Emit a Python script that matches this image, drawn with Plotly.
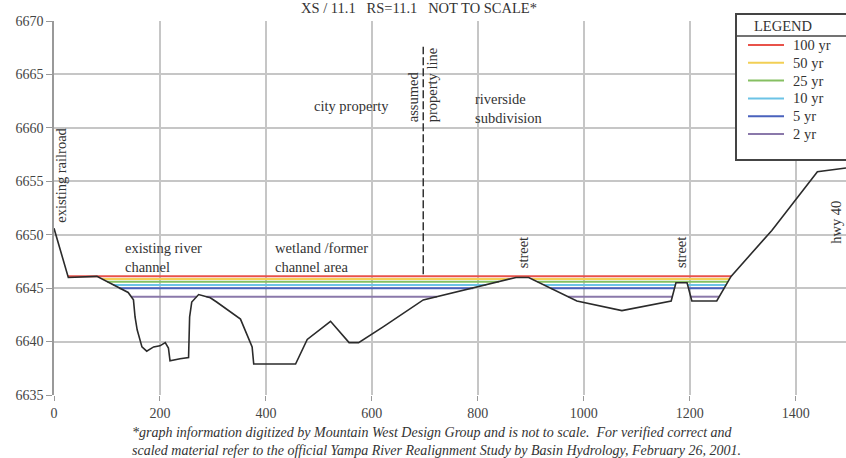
import plotly.graph_objects as go

# ---------------- data ----------------
station = [0, 27, 81, 119, 140, 150, 153, 157, 166, 175, 188, 200, 210, 216, 219,
           238, 254, 256, 260, 273, 295, 307, 352, 374, 377, 456, 478, 522, 557,
           575, 622, 697, 800, 872, 896, 987, 1072, 1165, 1174, 1195, 1204, 1251,
           1278, 1355, 1441, 1495]
ground = [6650.6, 6646.0, 6646.1, 6645.1, 6644.6, 6643.9, 6642.3, 6641.1, 6639.5,
          6639.1, 6639.5, 6639.6, 6639.9, 6639.4, 6638.2, 6638.4, 6638.5, 6642.3,
          6643.7, 6644.4, 6644.1, 6643.7, 6642.1, 6639.5, 6637.9, 6637.9, 6640.2,
          6641.9, 6639.9, 6639.9, 6641.4, 6643.9, 6645.1, 6646.0, 6646.0, 6643.8,
          6642.9, 6643.8, 6645.5, 6645.5, 6643.8, 6643.8, 6646.1, 6650.4, 6655.9,
          6656.25]

events = ["100 yr", "50 yr", "25 yr", "10 yr", "5 yr", "2 yr"]
wse = [6646.12, 6645.85, 6645.6, 6645.3, 6645.0, 6644.2]
colors = ["#e8524a", "#f2cf55", "#86bf62", "#6cc3e6", "#4a62bd", "#8a78aa"]

x_ticks = [0, 200, 400, 600, 800, 1000, 1200, 1400]
y_ticks = [6635, 6640, 6645, 6650, 6655, 6660, 6665, 6670]

property_line_station = 697
property_line_elev = [6646.3, 6667.6]

labels = [
    # text, station, elevation, angle, anchor
    ("existing railroad", 13, 6655.6, -90, "center"),
    ("existing river<br>channel", 130, 6647.9, 0, "left"),
    ("wetland /former<br>channel area", 414, 6647.9, 0, "left"),
    ("city property", 561, 6662.0, 0, "center"),
    ("assumed<br>property line", 695, 6664.0, -90, "left"),
    ("riverside<br>subdivision", 791, 6661.8, 0, "left"),
    ("street", 886, 6648.3, -90, "center"),
    ("street", 1184, 6648.3, -90, "center"),
    ("hwy 40", 1476, 6651.2, -90, "center"),
]

title_text = "XS / 11.1\u00a0\u00a0\u00a0RS=11.1\u00a0\u00a0\u00a0NOT TO SCALE*"
footnote = ("<i>*graph information digitized by Mountain West Design Group and is not to scale.\u00a0\u00a0For verified correct and<br>"
            "scaled material refer to the official Yampa River Realignment Study by Basin Hydrology, February 26, 2001.</i>")

FONT = "Liberation Serif"
TXT = "#333333"


def wet_segments(st, el, level):
    xs, ys = [], []
    inside = el[0] < level
    if inside:
        xs.append(st[0]); ys.append(level)
    for i in range(len(st) - 1):
        x0, y0, x1, y1 = st[i], el[i], st[i + 1], el[i + 1]
        b0, b1 = y0 < level, y1 < level
        if b0 != b1:
            xc = x0 + (level - y0) * (x1 - x0) / (y1 - y0)
            xs.append(xc); ys.append(level)
            if not b1:
                xs.append(None); ys.append(None)
    return xs, ys


fig = go.Figure()

for name, lvl, col in zip(events, wse, colors):
    xs, ys = wet_segments(station, ground, lvl)
    fig.add_trace(go.Scatter(x=xs, y=ys, mode="lines", name=name,
                             line=dict(color=col, width=2), hoverinfo="skip",
                             showlegend=False))

fig.add_trace(go.Scatter(x=[property_line_station] * 2, y=property_line_elev,
                         mode="lines", line=dict(color="#333333", width=1.5, dash="8px,3px"),
                         showlegend=False, hoverinfo="skip"))

fig.add_trace(go.Scatter(x=station, y=ground, mode="lines", name="ground",
                         line=dict(color="#2b2b2b", width=1.6), showlegend=False))

for text, sx, ey, ang, anc in labels:
    fig.add_annotation(x=sx, y=ey, xref="x", yref="y", text=text, showarrow=False,
                       textangle=ang, xanchor="center" if ang else anc,
                       yanchor="middle", align="left",
                       font=dict(family=FONT, size=14.5, color=TXT))

# title
fig.add_annotation(x=(419 - 54) / 792, y=(395 - 8) / 374, xref="paper", yref="paper",
                   text=title_text, showarrow=False, xanchor="center", yanchor="middle",
                   font=dict(family=FONT, size=14.5, color=TXT))
# footnote
fig.add_annotation(x=(436 - 54) / 792, y=(395 - 441) / 374, xref="paper", yref="paper",
                   text=footnote, showarrow=False, xanchor="center", yanchor="middle",
                   align="left", font=dict(family=FONT, size=14, color=TXT),
                   )

# legend box (drawn manually)
def px_x(p):
    return (p - 54) / 792


def px_y(p):
    return (395 - p) / 374


fig.add_shape(type="rect", xref="paper", yref="paper", x0=px_x(736), x1=px_x(852),
              y0=px_y(160), y1=px_y(14), line=dict(color="#444444", width=2),
              fillcolor="white", layer="above")
fig.add_shape(type="line", xref="paper", yref="paper", x0=px_x(736), x1=px_x(852),
              y0=px_y(36), y1=px_y(36), line=dict(color="#444444", width=1.5), layer="above")
fig.add_annotation(x=px_x(783), y=px_y(26), xref="paper", yref="paper", text="LEGEND",
                   showarrow=False, xanchor="center", yanchor="middle",
                   font=dict(family=FONT, size=14.5, color=TXT))
entry_y = [45, 62.8, 80.6, 98.4, 116.2, 134]
for name, col, ey in zip(events, colors, entry_y):
    fig.add_shape(type="line", xref="paper", yref="paper", x0=px_x(748), x1=px_x(784),
                  y0=px_y(ey), y1=px_y(ey), line=dict(color=col, width=2), layer="above")
    fig.add_annotation(x=px_x(791), y=px_y(ey), xref="paper", yref="paper", text=name,
                       showarrow=False, xanchor="left", yanchor="middle",
                       font=dict(family=FONT, size=14.5, color=TXT))

fig.update_layout(
    width=846, height=458,
    margin=dict(l=54, r=0, t=21, b=63),
    paper_bgcolor="white", plot_bgcolor="white",
    showlegend=False,
    xaxis=dict(range=[0, 1495], tickvals=x_ticks, showgrid=True, gridcolor="#c6c6c6",
               gridwidth=1.5, zeroline=False, showline=False, ticks="outside",
               ticklen=5, tickcolor="#999999",
               tickfont=dict(family=FONT, size=14, color="#444444")),
    yaxis=dict(range=[6635, 6670], tickvals=y_ticks, showgrid=True, gridcolor="#c6c6c6",
               gridwidth=1.5, zeroline=False, showline=True, linecolor="#999999",
               linewidth=1.5, ticks="outside", ticklen=6, tickcolor="#999999",
               tickfont=dict(family=FONT, size=14, color="#444444")),
)

fig.write_html("out.html")
